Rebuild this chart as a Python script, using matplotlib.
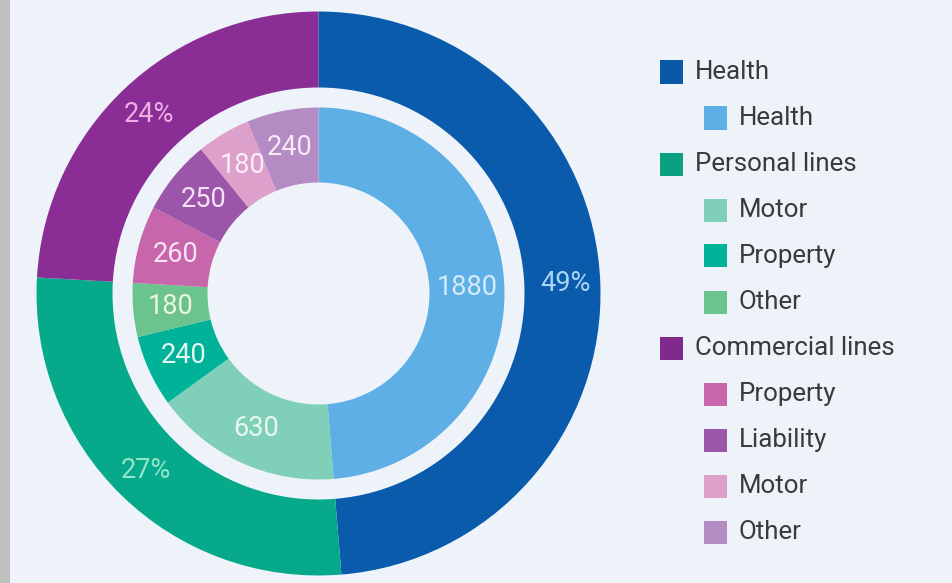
import matplotlib
matplotlib.use("Agg")
import matplotlib.pyplot as plt
from matplotlib.patches import Rectangle

# ---- data ----
outer_labels = ["Health", "Personal lines", "Commercial lines"]
outer_pct_text = ["49%", "27%", "24%"]
outer_colors = ["#0a5bac", "#06a98a", "#8a2e96"]
outer_text_colors = ["#a8d4f6", "#8fe6c8", "#eeaee6"]

inner_labels = ["Health", "Motor", "Property", "Other",
                "Property", "Liability", "Motor", "Other"]
inner_values = [1880, 630, 240, 180, 260, 250, 180, 240]
inner_groups = [0, 1, 1, 1, 2, 2, 2, 2]
inner_colors = ["#5dafe6", "#80cfb8", "#00b398", "#6bc48e",
                "#c766ab", "#9b56a9", "#dca0cb", "#b48bc2"]
inner_text_colors = ["#d4ecfb", "#e8f8f1", "#e4f7f0", "#eef7d8",
                     "#f8e4f3", "#f4e2f4", "#fbeef6", "#f7e9f6"]

outer_values = [sum(v for v, g in zip(inner_values, inner_groups) if g == i)
                for i in range(len(outer_labels))]

BG = "#eef3fa"
W, H = 952, 583
fig = plt.figure(figsize=(W / 100, H / 100), dpi=100, facecolor=BG)

# pie geometry in pixels
cx, cy_top, R = 318.5, 293.5, 282.0
cy = H - cy_top
ax = fig.add_axes([(cx - R) / W, (cy - R) / H, 2 * R / W, 2 * R / H])
ax.set_facecolor(BG)

r_out_in = 206 / R
r_in_out = 186 / R
r_in_in = 111 / R

FONT = "Roboto"

w_out, t_out = ax.pie(outer_values, radius=1.0, startangle=90, counterclock=False,
                      colors=outer_colors, labels=outer_pct_text,
                      labeldistance=(1 + r_out_in) / 2 + 0.01,
                      wedgeprops=dict(width=1 - r_out_in, linewidth=0))
for t, c in zip(t_out, outer_text_colors):
    t.set_ha("center"); t.set_va("center"); t.set_color(c)
    t.set_fontsize(19.5); t.set_family(FONT)

w_in, t_in = ax.pie(inner_values, radius=r_in_out, startangle=90, counterclock=False,
                    colors=inner_colors, labels=[str(v) for v in inner_values],
                    labeldistance=((r_in_out + r_in_in) / 2) / r_in_out,
                    wedgeprops=dict(width=r_in_out - r_in_in, linewidth=0))
for t, c in zip(t_in, inner_text_colors):
    t.set_ha("center"); t.set_va("center"); t.set_color(c)
    t.set_fontsize(19.5); t.set_family(FONT)

ax.set_xlim(-1, 1)
ax.set_ylim(-1, 1)
ax.set_aspect("equal")
ax.axis("off")

# ---- legend (manual, hierarchical) ----
legend_entries = []
for gi, gl in enumerate(outer_labels):
    legend_entries.append((gl, outer_colors[gi], 0))
    for lab, col, g in zip(inner_labels, inner_colors, inner_groups):
        if g == gi:
            legend_entries.append((lab, col, 1))
legend_main_colors = ["#0a58a8", "#0aa182", "#7f2a8c"]

y0, dy = 72, 46.0
sq = 23
for i, (lab, col, lvl) in enumerate(legend_entries):
    yc = y0 + i * dy
    if lvl == 0:
        col = legend_main_colors[outer_labels.index(lab)]
    x_sq = 660 if lvl == 0 else 704
    fig.add_artist(Rectangle((x_sq / W, (H - yc - sq / 2) / H), sq / W, sq / H,
                             transform=fig.transFigure, facecolor=col,
                             edgecolor="none"))
    fig.text((x_sq + sq + 12) / W, (H - yc) / H, lab, ha="left", va="center",
             fontsize=18.6, family=FONT, color="#3a3a3a")

# left grey strip
fig.add_artist(Rectangle((0, 0), 10 / W, 1, transform=fig.transFigure,
                         facecolor="#bfbfbf", edgecolor="none"))

fig.savefig("out.png", dpi=100, facecolor=BG)
